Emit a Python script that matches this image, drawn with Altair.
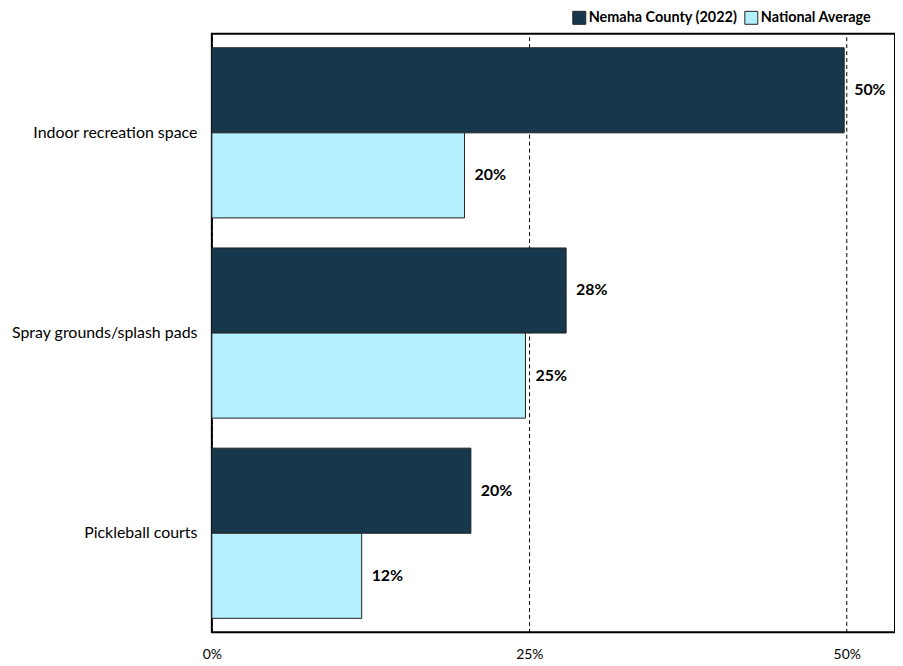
import altair as alt
import pandas as pd

categories = ["Indoor recreation space", "Spray grounds/splash pads", "Pickleball courts"]
series = ["Nemaha County (2022)", "National Average"]
nemaha = [0.498, 0.279, 0.204]
national = [0.199, 0.247, 0.118]
colors = ["#17384C", "#B3EFFC"]

rows = []
for c, a, b in zip(categories, nemaha, national):
    rows.append({"cat": c, "series": series[0], "value": a, "label": f"{round(a*100):.0f}%"})
    rows.append({"cat": c, "series": series[1], "value": b, "label": f"{round(b*100):.0f}%"})
df = pd.DataFrame(rows)

FONT = "Lato"

y = alt.Y("cat:N", sort=categories, title=None,
          scale=alt.Scale(paddingInner=0.15, paddingOuter=0.07),
          axis=alt.Axis(labelFontSize=16, labelFont=FONT, labelColor="black",
                        ticks=False, domain=False, labelPadding=15, labelLimit=300))
yoff = alt.YOffset("series:N", sort=series)
x = alt.X("value:Q", title=None,
          scale=alt.Scale(domain=[0, 0.538], nice=False),
          axis=alt.Axis(values=[0, 0.25, 0.5], format=".0%", ticks=False, domain=False,
                        grid=True, gridColor="black", gridDash=[4, 3], gridWidth=1,
                        labelFontSize=14, labelFont=FONT, labelColor="black",
                        labelPadding=15, labelFlush=False))

bars = alt.Chart(df).mark_bar(stroke="#222", strokeWidth=1).encode(
    x=x, y=y, yOffset=yoff,
    color=alt.Color("series:N", sort=series,
                    scale=alt.Scale(domain=series, range=colors),
                    legend=alt.Legend(title=None, orient="none", direction="horizontal",
                                      legendX=362, legendY=-24,
                                      symbolType="square", symbolSize=170,
                                      symbolStrokeColor="#222", symbolStrokeWidth=1,
                                      labelFont=FONT, labelFontSize=14.5, labelFontWeight="bold",
                                      labelColor="black", columnPadding=4, labelOffset=2,
                                      labelLimit=300)),
)

text = alt.Chart(df).mark_text(align="left", dx=10, font=FONT, fontSize=16,
                               fontWeight="bold", color="black").encode(
    x="value:Q", y=alt.Y("cat:N", sort=categories), yOffset=alt.YOffset("series:N", sort=series),
    text="label:N")

chart = (bars + text).properties(
    width=687, height=602,
    autosize=alt.AutoSizeParams(type="none"),
    padding={"left": 205, "top": 24, "right": 0, "bottom": 40},
).configure(background="white").configure_view(stroke="black", strokeWidth=2)

chart.save("out.html", embed_options={"renderer": "svg", "actions": False})
